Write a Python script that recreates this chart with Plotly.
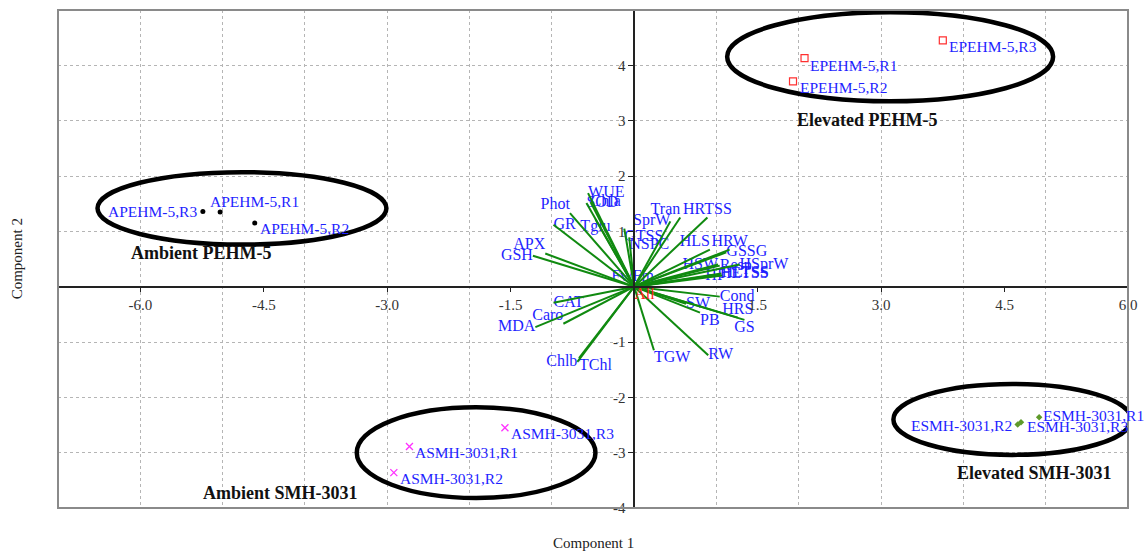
import plotly.graph_objects as go

# ---------------- data ----------------
# PCA scores (Component 1, Component 2)
apehm_labels = ["APEHM-5,R1", "APEHM-5,R2", "APEHM-5,R3"]
apehm_x = [-5.03, -4.61, -5.24]
apehm_y = [1.35, 1.15, 1.36]

epehm_labels = ["EPEHM-5,R1", "EPEHM-5,R2", "EPEHM-5,R3"]
epehm_x = [2.07, 1.93, 3.75]
epehm_y = [4.13, 3.71, 4.45]

asmh_labels = ["ASMH-3031,R1", "ASMH-3031,R2", "ASMH-3031,R3"]
asmh_x = [-2.73, -2.92, -1.57]
asmh_y = [-2.89, -3.36, -2.55]

esmh_labels = ["ESMH-3031,R1", "ESMH-3031,R2", "ESMH-3031,R3"]
esmh_x = [4.92, 4.66, 4.70]
esmh_y = [-2.36, -2.49, -2.45]

# label placement (style): anchor side, pixel shifts
apehm_anchor = ["left", "left", "right"]
apehm_dx = [-12, 3, -4]
apehm_dy = [10, -5, 0]
epehm_anchor = ["left", "left", "left"]
epehm_dx = [3, 5, 4]
epehm_dy = [-7, -6, -6]
asmh_anchor = ["left", "left", "left"]
asmh_dx = [4, 4, 4]
asmh_dy = [-6, -6, -6]
esmh_anchor = ["left", "right", "left"]
esmh_dx = [2, -4, 4]
esmh_dy = [2, -1, -4]

# PCA loadings (vector end points)
var_names = ["WUE", "SOD", "Chla", "Phot", "GR", "Tglu", "APX", "GSH",
             "CAT", "Caro", "MDA", "Chlb", "TChl", "TGW", "RW", "SW", "PB",
             "Cond", "HRS", "GS", "SprW", "Tran", "HRTSS", "GTSS", "NSPC",
             "HLS", "HRW", "GSSG", "HSW", "Resp", "HSprW", "HI", "HETSS",
             "HLTSS", "Fv/Fm"]
var_x = [-0.56, -0.58, -0.53, -0.78, -0.98, -0.47, -1.08, -1.23,
         -0.98, -0.86, -1.20, -0.69, -0.67, 0.24, 0.90, 0.63, 0.80,
         1.04, 1.26, 1.34, 0.44, 0.56, 0.89, -0.12, -0.06,
         0.92, 1.16, 1.12, 1.02, 1.04, 1.28, 1.07, 1.04,
         1.06, -0.02]
var_y = [1.69, 1.51, 1.53, 1.33, 1.12, 1.22, 0.60, 0.56,
         -0.29, -0.67, -0.73, -1.36, -1.29, -1.15, -1.24, -0.31, -0.47,
         -0.18, -0.56, -0.60, 1.18, 1.25, 1.25, 1.05, 0.89,
         0.67, 0.67, 0.62, 0.40, 0.38, 0.40, 0.20, 0.22,
         0.24, 0.18]
var_pos = ["middle right", "middle right", "middle right", "top left",
           "middle right", "bottom center", "top left", "middle left",
           "middle right", "top left", "middle left", "middle left",
           "bottom right", "bottom right", "middle right", "middle right",
           "bottom right", "middle right", "top center", "bottom center",
           "middle left", "top left", "top center", "bottom right",
           "bottom right", "top left", "top center", "middle right",
           "middle left", "middle right", "middle right", "middle left",
           "middle right", "middle right", "middle center"]

# group ellipses (x0, x1, y0, y1) and group captions
group_names = ["Ambient PEHM-5", "Elevated PEHM-5", "Ambient SMH-3031", "Elevated SMH-3031"]
ell_x0 = [-6.52, 1.13, -3.37, 3.15]
ell_x1 = [-3.01, 5.09, -0.47, 6.04]
ell_y0 = [0.76, 3.35, -3.82, -3.04]
ell_y1 = [2.07, 4.96, -2.18, -1.76]
group_label_x = [-5.26, 2.83, -4.30, 4.86]
group_label_y = [0.60, 3.02, -3.73, -3.36]

# axes
x_range = [-7, 6]
y_range = [-4, 5]
x_tickvals = [-6, -4.5, -3, -1.5, 1.5, 3, 4.5, 6]
x_ticktext = ["-6.0", "-4.5", "-3.0", "-1.5", "1.5", "3.0", "4.5", "6.0"]
x_gridvals = [-6, -5, -4, -3, -2, -1, 1, 2, 3, 4, 5]
y_tickvals = [-4, -3, -2, -1, 1, 2, 3, 4]
y_ticktext = ["-4", "-3", "-2", "-1", "1", "2", "3", "4"]

# ---------------- figure ----------------
FONT = "Liberation Serif, Times New Roman, serif"
BLUE = "#1f1fff"

fig = go.Figure()

# variable labels (drawn first so the vectors lie over them)
fig.add_trace(go.Scatter(
    x=var_x, y=var_y, mode="text", text=var_names, textposition=var_pos,
    textfont=dict(family=FONT, size=16, color=BLUE),
    hoverinfo="skip", showlegend=False, cliponaxis=False))

# loading vectors
lx, ly = [], []
for vx, vy in zip(var_x, var_y):
    lx += [0, vx, None]
    ly += [0, vy, None]
fig.add_trace(go.Scatter(
    x=lx, y=ly, mode="lines", line=dict(color="#108a10", width=2),
    hoverinfo="skip", showlegend=False))

# "All" label at origin
fig.add_trace(go.Scatter(
    x=[0], y=[0], mode="text", text=["All"], textposition="bottom right",
    textfont=dict(family=FONT, size=16, color="#ff2020"),
    hoverinfo="skip", showlegend=False))

groups = [
    (apehm_labels, apehm_x, apehm_y, apehm_anchor, apehm_dx, apehm_dy,
     dict(symbol="circle", size=5, color="black")),
    (epehm_labels, epehm_x, epehm_y, epehm_anchor, epehm_dx, epehm_dy,
     dict(symbol="square-open", size=7, color="#ff3030", line=dict(width=1.2))),
    (asmh_labels, asmh_x, asmh_y, asmh_anchor, asmh_dx, asmh_dy,
     dict(symbol="x-thin-open", size=7, color="#ff30ff", line=dict(width=1.3, color="#ff30ff"))),
    (esmh_labels, esmh_x, esmh_y, esmh_anchor, esmh_dx, esmh_dy,
     dict(symbol="diamond", size=5, color="#5f9a2a")),
]
pt_font = dict(family=FONT, size=15.5, color=BLUE)
for labels, gx, gy, anc, dx, dy, mk in groups:
    fig.add_trace(go.Scatter(x=gx, y=gy, mode="markers", marker=mk,
                             text=labels, hoverinfo="text", showlegend=False,
                             cliponaxis=False))
    for t, px_, py_, a, sx, sy in zip(labels, gx, gy, anc, dx, dy):
        fig.add_annotation(x=px_, y=py_, xref="x", yref="y", text=t, showarrow=False,
                           xanchor=a, yanchor="middle", xshift=sx, yshift=sy,
                           font=pt_font)

# dummy trace for the overlay axis carrying the x tick labels
fig.add_trace(go.Scatter(x=[None], y=[None], xaxis="x2", yaxis="y",
                         showlegend=False, hoverinfo="skip"))

# ellipses
for x0, x1, y0, y1 in zip(ell_x0, ell_x1, ell_y0, ell_y1):
    fig.add_shape(type="circle", xref="x", yref="y", x0=x0, x1=x1, y0=y0, y1=y1,
                  line=dict(color="black", width=4.5), layer="above")

# group captions
for name, gx, gy in zip(group_names, group_label_x, group_label_y):
    fig.add_annotation(x=gx, y=gy, xref="x", yref="y", text="<b>" + name + "</b>",
                       showarrow=False, xanchor="center", yanchor="middle",
                       font=dict(family=FONT, size=18, color="#111111"))

# plot frame
fig.add_shape(type="rect", xref="paper", yref="paper", x0=0, x1=1, y0=0, y1=1,
              line=dict(color="#8a8a8a", width=2), layer="above")

# axis titles
fig.add_annotation(x=0.5, y=-0.07, xref="paper", yref="paper", text="Component 1",
                   showarrow=False, xanchor="center", yanchor="middle",
                   font=dict(family=FONT, size=15, color="#222222"))
fig.add_annotation(x=-0.038, y=0.5, xref="paper", yref="paper", text="Component 2",
                   showarrow=False, textangle=-90, xanchor="center", yanchor="middle",
                   font=dict(family=FONT, size=15, color="#222222"))

x_zero_pos = (0 - y_range[0]) / (y_range[1] - y_range[0])
y_zero_pos = (0 - x_range[0]) / (x_range[1] - x_range[0])

fig.update_layout(
    width=1146, height=551,
    margin=dict(l=58, r=18, t=10, b=43),
    paper_bgcolor="white", plot_bgcolor="white",
    font=dict(family=FONT, size=15, color="#222222"),
    showlegend=False,
    xaxis=dict(range=x_range, domain=[0, 1], tickmode="array", tickvals=x_gridvals,
               showticklabels=False, ticks="", showline=False, zeroline=False,
               showgrid=True, gridcolor="#b5b5b5", griddash="dot", gridwidth=1),
    xaxis2=dict(range=x_range, overlaying="x", anchor="free", position=x_zero_pos,
                tickmode="array", tickvals=x_tickvals, ticktext=x_ticktext,
                ticks="outside", ticklen=5, tickcolor="#222222", tickwidth=1,
                showline=True, linecolor="#222222", linewidth=1.5,
                showgrid=False, zeroline=False, side="bottom",
                tickfont=dict(family=FONT, size=15, color="#333333")),
    yaxis=dict(range=y_range, domain=[0, 1], anchor="free", position=y_zero_pos,
               tickmode="array", tickvals=y_tickvals, ticktext=y_ticktext,
               ticks="outside", ticklen=5, tickcolor="#222222", tickwidth=1,
               showline=True, linecolor="#222222", linewidth=1.5,
               showgrid=True, gridcolor="#b5b5b5", griddash="dot", gridwidth=1,
               zeroline=False, side="left",
               tickfont=dict(family=FONT, size=15, color="#333333")),
)

fig.write_html("out.html", config={"displayModeBar": False},
               post_script="document.body.style.margin='0';document.body.style.overflow='hidden';")
